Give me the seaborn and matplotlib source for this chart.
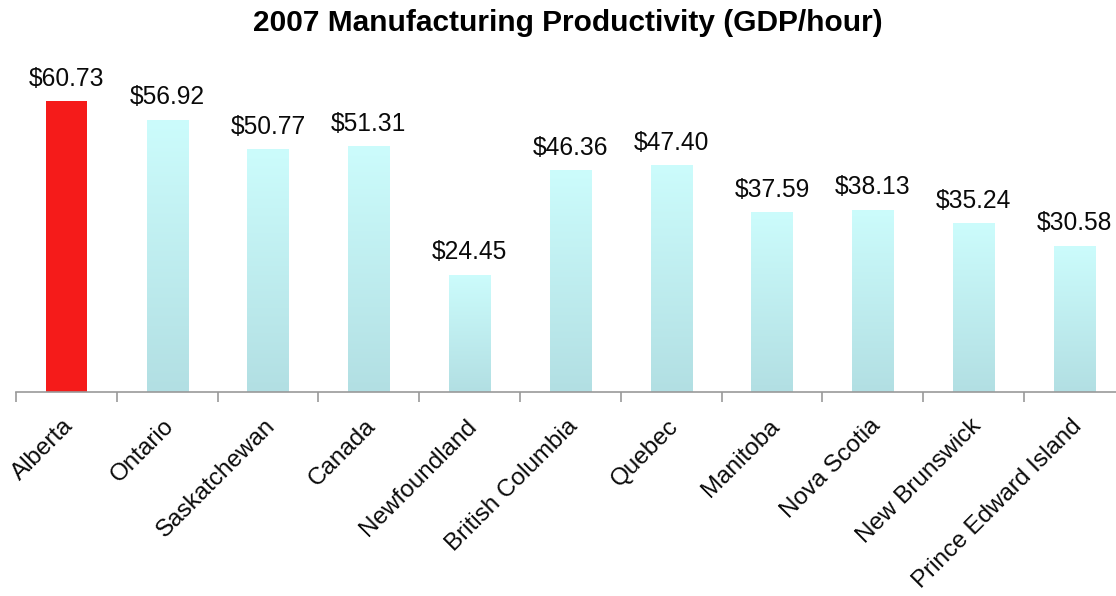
import numpy as np
import pandas as pd
import seaborn as sns
import matplotlib
matplotlib.use("Agg")
import matplotlib.pyplot as plt
from matplotlib.colors import LinearSegmentedColormap
from matplotlib.transforms import ScaledTranslation

categories = ["Alberta", "Ontario", "Saskatchewan", "Canada", "Newfoundland",
              "British Columbia", "Quebec", "Manitoba", "Nova Scotia",
              "New Brunswick", "Prince Edward Island"]
values = [60.73, 56.92, 50.77, 51.31, 24.45, 46.36, 47.40, 37.59, 38.13, 35.24, 30.58]
labels = ["$60.73", "$56.92", "$50.77", "$51.31", "$24.45", "$46.36", "$47.40",
          "$37.59", "$38.13", "$35.24", "$30.58"]
title = "2007 Manufacturing Productivity (GDP/hour)"

sns.set_theme(style="white")
plt.rcParams['font.family'] = ['Liberation Sans', 'DejaVu Sans']

df = pd.DataFrame({"region": categories, "value": values})

fig = plt.figure(figsize=(11.16, 5.96), dpi=100)
ax = fig.add_axes([16/1116, 204/596, 1100/1116, 335/596])

sns.barplot(data=df, x="region", y="value", ax=ax, width=0.41,
            color="#c4f0f2", saturation=1, linewidth=0)

XLIM = (-0.5, -0.5 + 1100/100.8)
ax.set_ylim(0, 70)
ax.set_xlim(*XLIM)

grad = LinearSegmentedColormap.from_list("g", ["#b2dfe3", "#ccfcfc"])
for i, p in enumerate(ax.patches):
    x0, y0 = p.get_x(), p.get_y()
    w, h = p.get_width(), p.get_height()
    if i == 0:
        p.set_facecolor("#f51b1a")
    else:
        p.set_facecolor("none")
        im = ax.imshow(np.linspace(0, 1, 256).reshape(-1, 1), cmap=grad,
                       origin="lower", aspect="auto",
                       extent=[x0, x0 + w, y0, y0 + h], zorder=p.get_zorder())
        im.set_clip_path(p)
    ax.text(x0 + w / 2, y0 + h + 2.2, labels[i], ha="center", va="bottom",
            fontsize=17.7, color="#0a0a0a")

for s in ["top", "right", "left"]:
    ax.spines[s].set_visible(False)
ax.spines["bottom"].set_color("#999999")
ax.spines["bottom"].set_linewidth(1.2)
ax.set_yticks([])
ax.set_xticks(range(len(categories)))
ax.set_xticklabels(categories, rotation=45, ha="right", rotation_mode="anchor",
                   fontsize=17.5, color="#0a0a0a")
ax.set_xticks(np.arange(-0.5, len(categories) + 0.5, 1), minor=True)
ax.tick_params(axis="x", which="major", length=0, pad=12)
ax.tick_params(axis="x", which="minor", length=7, width=1.2, color="#999999",
               bottom=True, direction="out")
ax.set_xlabel("")
ax.set_ylabel("")
ax.set_xlim(*XLIM)
ax.set_ylim(0, 70)

offset = ScaledTranslation(-0.04, -0.065, fig.dpi_scale_trans)
for lab in ax.get_xticklabels():
    lab.set_transform(lab.get_transform() + offset)

fig.suptitle(title, fontsize=21.5, fontweight="bold", x=568/1116, y=1 - 23/596,
             va="center", color="#000000")

fig.savefig("out.png", dpi=100)
